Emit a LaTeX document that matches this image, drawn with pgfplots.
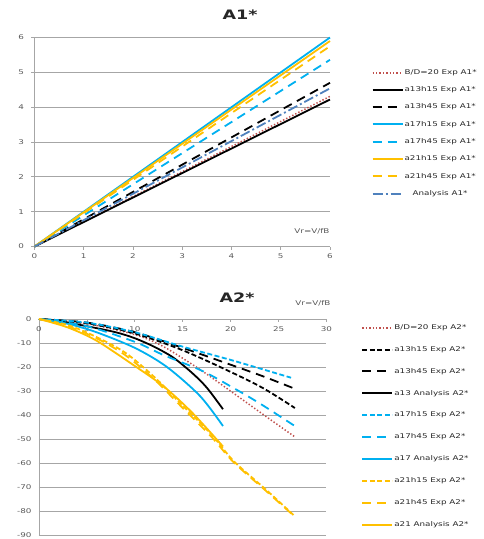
\documentclass[border=0pt]{standalone}
\usepackage{fontspec}
\setmainfont{DejaVu Sans}[FakeStretch=1.35]
\usepackage{pgfplots}
\pgfplotsset{compat=1.18}
\definecolor{cyanx}{HTML}{00B0F0}
\definecolor{orangex}{HTML}{FFC000}
\definecolor{redx}{HTML}{C0504D}
\definecolor{bluex}{HTML}{4F81BD}
\definecolor{gridx}{HTML}{A6A6A6}
\definecolor{tickx}{HTML}{595959}
\pgfplotsset{
  exstyle/.style={
    scale only axis,
    axis line style={gridx, line width=0.8pt, -},
    ymajorgrids, major grid style={gridx, line width=0.8pt},
    tick style={gridx, line width=0.8pt},
    major tick length=3pt,
    tick label style={font=\fontsize{6.5}{7}\selectfont, text=tickx},
    /pgf/number format/assume math mode=true,
    legend cell align=left,
    legend image code/.code={\draw[##1, line width=2pt] (0pt,0pt) -- (30pt,0pt);},
    clip=false,
  },
  lsolid/.style={line width=1.8pt},
  llong/.style={line width=1.8pt, dash pattern=on 9pt off 6pt},
  lshort/.style={line width=1.8pt, dash pattern=on 5pt off 2.5pt},
  ldot/.style={line width=1.5pt, dash pattern=on 1.4pt off 2pt},
}
\begin{document}
\begin{tikzpicture}
\useasboundingbox (0pt,0pt) rectangle (484pt,-539pt);
% ---------------- A1* ----------------
\begin{axis}[exstyle,
  at={(34.5pt,-246.5pt)}, anchor=south west,
  width=295.5pt, height=209pt,
  xmin=0, xmax=6, ymin=0, ymax=6,
  xtick={0,1,...,6}, ytick={0,1,...,6},
  axis x line*=bottom, axis y line*=left,
  tick align=outside,
  xticklabel style={yshift=-1pt},
  yticklabel style={xshift=-4pt},
  legend style={draw=none, fill=none, at={(1.13,0.863)}, anchor=north west,
    font=\fontsize{6.5}{7}\selectfont, text=black!85,
    nodes={inner sep=1pt, text height=5pt, text depth=1.5pt},
    row sep=8.8pt},
]
\addplot[redx, ldot] coordinates {(0,0) (3,2.15) (6,4.31)};
\addlegendentry{B/D=20 Exp A1*}
\addplot[black, lsolid] coordinates {(0,0) (3,2.11) (6,4.22)};
\addlegendentry{a13h15 Exp A1*}
\addplot[black, llong] coordinates {(0,0) (3,2.35) (6,4.7)};
\addlegendentry{a13h45 Exp A1*}
\addplot[cyanx, lsolid] coordinates {(0,0) (3,3.0) (6,6.0)};
\addlegendentry{a17h15 Exp A1*}
\addplot[cyanx, llong] coordinates {(0,0) (3,2.68) (6,5.36)};
\addlegendentry{a17h45 Exp A1*}
\addplot[orangex, lsolid] coordinates {(0,0) (3,2.95) (6,5.9)};
\addlegendentry{a21h15 Exp A1*}
\addplot[orangex, llong] coordinates {(0,0) (3,2.87) (6,5.75)};
\addlegendentry{a21h45 Exp A1*}
\addplot[bluex, line width=1.8pt, dash pattern=on 10pt off 3pt on 2pt off 3pt] coordinates {(0,0) (3,2.27) (6,4.54)};
\addlegendentry{\hspace{8pt}Analysis A1*}
\end{axis}
\node[font=\bfseries\fontsize{13}{14}\selectfont, text=black!85] at (240pt,-15pt) {A1*};
\node[font=\fontsize{6.5}{7}\selectfont, text=tickx] at (312pt,-231pt) {Vr=V/fB};
% ---------------- A2* ----------------
\begin{axis}[exstyle,
  at={(39pt,-535.5pt)}, anchor=south west,
  width=287.5pt, height=216.5pt,
  xmin=0, xmax=30, ymin=-90, ymax=0,
  xtick={0,5,...,30}, ytick={-90,-80,...,0},
  axis x line*=top, axis y line*=left,
  tick align=inside,
  xticklabel style={anchor=north, yshift=-4pt},
  yticklabel style={xshift=-4pt},
  legend style={draw=none, fill=none, at={(1.11,0.99)}, anchor=north west,
    font=\fontsize{6.5}{7}\selectfont, text=black!85,
    nodes={inner sep=1pt, text height=5pt, text depth=1.5pt},
    row sep=13.4pt},
  every axis plot/.append style={smooth, tension=0.5},
]
\addplot[redx, ldot] coordinates {(0,0) (5,-2) (10,-6.5) (13,-11.5) (16.8,-21) (20,-30) (23.5,-40) (26.7,-49)};
\addlegendentry{B/D=20 Exp A2*}
\addplot[black, lshort] coordinates {(0,0) (5,-1.8) (10,-6) (15,-13) (20,-22) (23.5,-29) (26.7,-37)};
\addlegendentry{a13h15 Exp A2*}
\addplot[black, llong] coordinates {(0,0) (5,-1.5) (10,-5.5) (15,-12) (20,-19) (23.5,-24) (26.7,-29)};
\addlegendentry{a13h45 Exp A2*}
\addplot[black, lsolid] coordinates {(0,0) (2,-0.8) (5,-3) (8,-5.5) (10,-8) (12,-11.5) (14,-16) (16,-22.5) (17.5,-28.5) (19.2,-37.5)};
\addlegendentry{a13 Analysis A2*}
\addplot[cyanx, lshort] coordinates {(0,0) (5,-1.5) (10,-5.5) (15,-11.5) (20,-17) (23,-20.5) (26.3,-24.4)};
\addlegendentry{a17h15 Exp A2*}
\addplot[cyanx, llong] coordinates {(0,0) (5,-3) (10,-9.5) (13,-15) (17,-21.5) (20,-28) (23,-35) (26.7,-44.5)};
\addlegendentry{a17h45 Exp A2*}
\addplot[cyanx, lsolid] coordinates {(0,0) (3,-2) (6,-5.5) (10,-12) (13.3,-19.8) (16.8,-32) (19.2,-44.5)};
\addlegendentry{a17 Analysis A2*}
\addplot[orangex, lshort] coordinates {(0,0) (3,-2.5) (6,-7.5) (9,-14) (12,-24) (15,-36) (18,-48) (20.3,-59) (23.7,-71) (26.7,-82)};
\addlegendentry{a21h15 Exp A2*}
\addplot[orangex, llong] coordinates {(0,0) (3,-3) (6,-8) (9,-15) (12,-25) (15,-37) (18,-49) (20.3,-59.5) (23.7,-71.5) (26.5,-81.5)};
\addlegendentry{a21h45 Exp A2*}
\addplot[orangex, lsolid] coordinates {(0,0) (3,-3.5) (6,-9) (9.8,-19) (13,-28) (16,-39) (19.2,-53)};
\addlegendentry{a21 Analysis A2*}
\end{axis}
\node[font=\bfseries\fontsize{13}{14}\selectfont, text=black!85] at (237pt,-298pt) {A2*};
\node[font=\fontsize{6.5}{7}\selectfont, text=tickx] at (313pt,-303.5pt) {Vr=V/fB};
\end{tikzpicture}
\end{document}
